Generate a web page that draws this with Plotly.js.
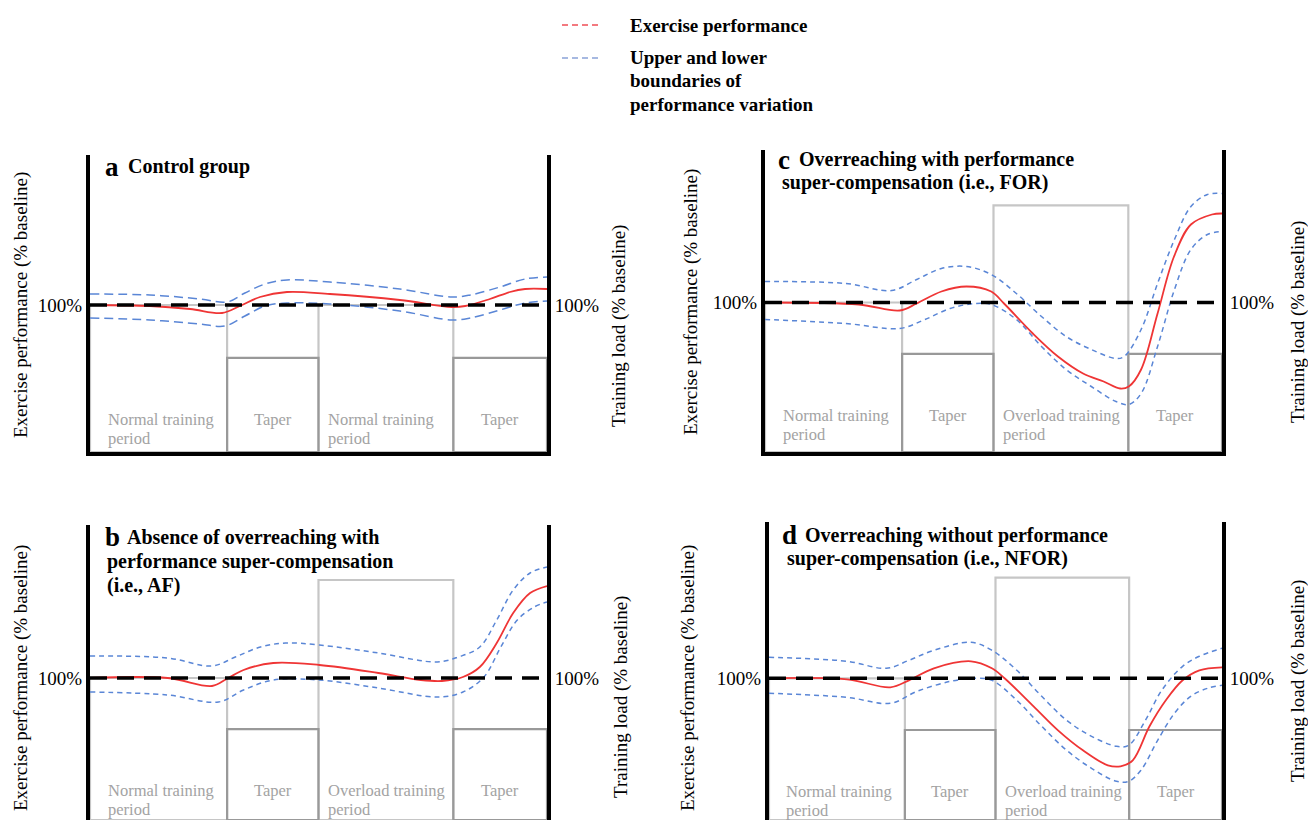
<!DOCTYPE html>
<html><head><meta charset="utf-8">
<script src="https://cdn.plot.ly/plotly-3.0.1.min.js"></script>
<style>html,body{margin:0;padding:0;background:#fff}#chart{width:1308px;height:820px}</style>
</head><body><div id="chart"></div>
<script>
// ---------------- DATA ----------------
// Time axis: protocol time in % of total duration; period boundaries
const periodEdges = [0, 30, 50, 79.5, 100];
const periodNamesA = ["Normal training<br>period", "Taper", "Normal training<br>period", "Taper"];
const periodNamesBCD = ["Normal training<br>period", "Taper", "Overload training<br>period", "Taper"];

// Training load (% baseline) per period
const loadA = [100, 64, 100, 64];
const loadB = [100, 64, 169, 64];
const loadC = [100, 65.6, 165, 65.6];
const loadD = [100, 63.5, 171, 63.5];

// Baseline reference (100 %)
const baseTime = [0, 100];
const basePerf = [100, 100];

// Panel a – Control group
const aRedTime = [0, 13.1, 21.9, 28.9, 32.8, 37.2, 43.1, 52.5, 67.8, 79.2, 82.1, 87.5, 91.9, 95.2, 100];
const aRedPerf = [100, 99.9, 99.6, 99.2, 99.9, 100.8, 101.3, 101.1, 100.5, 99.8, 99.9, 100.6, 101.3, 101.6, 101.6];
const aUpTime = [0, 13.1, 24.1, 30, 33.9, 38.3, 43.1, 52.5, 67.8, 79.2, 83.2, 89.7, 95.2, 100];
const aUpPerf = [101.1, 101.0, 100.6, 100.3, 101.2, 102.1, 102.5, 102.3, 101.6, 100.8, 101.0, 101.8, 102.6, 102.8];
const aLoTime = [0, 13.1, 24.1, 29.5, 33.9, 38.3, 43.1, 52.5, 67.8, 79.2, 83.2, 89.7, 95.2, 100];
const aLoPerf = [98.7, 98.5, 98.1, 97.9, 98.9, 99.9, 100.2, 100.1, 99.4, 98.5, 98.7, 99.5, 100.2, 100.4];

// Panel b – AF
const bRedTime = [0, 17.0, 26.7, 29.9, 33.6, 40.1, 50.2, 63.1, 72.4, 77.0, 81.6, 85.3, 89.0, 92.6, 96.3, 100];
const bRedPerf = [100, 100.0, 99.2, 99.9, 100.8, 101.5, 101.3, 100.5, 99.8, 99.7, 100.1, 101.1, 103.5, 106.5, 108.5, 109.2];
const bUpTime = [0, 17.0, 26.7, 31.8, 37.3, 42.8, 50.2, 63.1, 76.0, 80.6, 85.3, 89.0, 92.6, 96.3, 100];
const bUpPerf = [102.2, 102.0, 101.2, 102.1, 103.1, 103.5, 103.3, 102.5, 101.6, 102.1, 103.1, 105.8, 108.8, 110.5, 111.1];
const bLoTime = [0, 17.0, 28.1, 33.6, 40.1, 50.2, 63.1, 76.0, 81.6, 86.2, 89.9, 93.5, 97.2, 100];
const bLoPerf = [98.6, 98.3, 97.6, 98.8, 99.8, 99.8, 99.0, 98.1, 98.6, 100.1, 103.1, 105.8, 107.1, 107.6];

// Panel c – FOR
const cRedTime = [0, 20.5, 29.5, 33.2, 38.6, 44.1, 49.5, 52.3, 58.6, 64.1, 69.6, 74.1, 77.7, 79.6, 82.3, 85.9, 89.5, 93.2, 97.8, 100];
const cRedPerf = [100, 99.8, 99.2, 99.9, 101.1, 101.6, 101.1, 99.9, 96.9, 94.6, 92.9, 92.1, 91.4, 91.6, 93.3, 98.9, 104.6, 107.8, 108.8, 108.9];
const cUpTime = [0, 17.7, 27.7, 33.2, 38.6, 44.1, 49.5, 55.0, 60.5, 65.9, 71.4, 76.8, 78.6, 82.3, 85.9, 89.6, 93.2, 96.8, 100];
const cUpPerf = [102.1, 101.9, 101.2, 102.3, 103.4, 103.6, 102.8, 100.9, 98.6, 96.6, 95.3, 94.4, 94.6, 97.3, 101.9, 106.3, 109.6, 110.8, 110.9];
const cLoTime = [0, 17.7, 29.5, 35.0, 40.5, 45.9, 49.5, 55.0, 60.5, 65.9, 71.4, 76.8, 79.6, 82.3, 85.9, 89.6, 93.2, 96.8, 100];
const cLoPerf = [98.3, 97.9, 97.4, 98.3, 99.4, 99.9, 99.8, 98.3, 95.6, 93.3, 91.6, 90.1, 89.8, 90.9, 95.6, 101.3, 105.3, 106.8, 107.1];

// Panel d – NFOR
const dRedTime = [0, 17.2, 26.8, 30.9, 36.4, 44.6, 49.2, 52.0, 58.4, 63.8, 69.3, 74.8, 77.6, 80.3, 84.0, 87.6, 91.3, 95.0, 100];
const dRedPerf = [100, 99.9, 99.1, 99.8, 101.0, 101.7, 101.0, 100, 97.2, 94.8, 92.8, 91.3, 91.2, 91.8, 95.2, 97.8, 99.8, 100.8, 101.1];
const dUpTime = [0, 17.2, 25.9, 30.9, 36.4, 44.6, 49.2, 54.7, 60.2, 65.7, 71.2, 76.7, 79.4, 83.1, 86.7, 91.3, 95.0, 100];
const dUpPerf = [102.1, 101.7, 101.0, 101.8, 102.8, 103.6, 102.8, 100.8, 98.2, 95.8, 94.2, 93.2, 93.3, 95.8, 98.8, 101.2, 102.2, 103.0];
const dLoTime = [0, 17.2, 26.8, 32.7, 40.1, 45.6, 49.2, 54.7, 60.2, 65.7, 71.2, 76.7, 79.4, 82.1, 85.8, 89.5, 93.1, 96.8, 100];
const dLoPerf = [98.5, 98.1, 97.5, 98.7, 99.7, 100, 99.8, 97.8, 95.2, 92.8, 91.0, 89.7, 89.7, 90.8, 93.8, 96.5, 98.2, 99.0, 99.3];

// Texts
const tickText = "100%";
const yTitleLeft = "Exercise performance (% baseline)";
const yTitleRight = "Training load (% baseline)";
const legendPerf = ["Exercise performance"];
const legendBounds = ["Upper and lower", "boundaries of", "performance variation"];
const titleA = ["Control group"];
const titleB = ["Absence of overreaching with", "performance super-compensation", "(i.e., AF)"];
const titleC = ["Overreaching with performance", "super-compensation (i.e., FOR)"];
const titleD = ["Overreaching without performance", "super-compensation (i.e., NFOR)"];

// ---------------- LAYOUT / STYLE ----------------
const W = 1308, H = 820;
const RED = '#ef3535', BLUE = '#5a86d6', LEG_BLUE = '#8aa3d8', LEG_RED = '#f04d55';
const GRAY_LIGHT = '#c6c6c6', GRAY_DARK = '#999999', LABEL_GRAY = '#a3a3a3';
const FONT = 'Liberation Serif';

const panels = [
  {letter:'a', names:periodNamesA, load:loadA, red:[aRedTime,aRedPerf], up:[aUpTime,aUpPerf], lo:[aLoTime,aLoPerf],
   box:{l:90, r:547, t:155, b:452}, y100:305, bottomLine:true, labelTop:30, blueDash:'9px,5px',
   title:titleA, letterPos:[103,167], linePos:[[126,167]],
   yl:[21,305], yr:[619,326]},
  {letter:'b', names:periodNamesBCD, load:loadB, red:[bRedTime,bRedPerf], up:[bUpTime,bUpPerf], lo:[bLoTime,bLoPerf],
   box:{l:90, r:547, t:525, b:820}, y100:678, bottomLine:false, labelTop:28.9, blueDash:'5px,4px',
   title:titleB, letterPos:[103,537], linePos:[[125,537],[105,561],[105,585]],
   yl:[21,678], yr:[621,697]},
  {letter:'c', names:periodNamesBCD, load:loadC, red:[cRedTime,cRedPerf], up:[cUpTime,cUpPerf], lo:[cLoTime,cLoPerf],
   box:{l:765, r:1222, t:150, b:452}, y100:302.5, bottomLine:true, labelTop:32, blueDash:'5px,4px',
   title:titleC, letterPos:[776,160], linePos:[[797,160],[780,183]],
   yl:[691,302], yr:[1298,322]},
  {letter:'d', names:periodNamesBCD, load:loadD, red:[dRedTime,dRedPerf], up:[dUpTime,dUpPerf], lo:[dLoTime,dLoPerf],
   box:{l:769, r:1222, t:522, b:820}, y100:678.3, bottomLine:false, labelTop:28.2, blueDash:'5px,4px',
   title:titleD, letterPos:[780,535], linePos:[[803,535],[785,558]],
   yl:[688,678], yr:[1298,681]}
];

const traces = [];
const layout = {
  width: W, height: H, margin: {l:0, r:0, t:0, b:0},
  paper_bgcolor: '#ffffff', plot_bgcolor: 'rgba(0,0,0,0)',
  font: {family: FONT, color: '#000'}, showlegend: false,
  annotations: [], shapes: []
};

panels.forEach((p, i) => {
  const n = i + 1;
  const xa = n === 1 ? 'x' : 'x' + n;
  const loadNum = 2 * i + 1, perfNum = 2 * i + 2;
  const loadId = loadNum === 1 ? 'y' : 'y' + loadNum;
  const perfId = 'y' + perfNum;
  const B = p.box;

  const centers = p.load.map((_, j) => (periodEdges[j] + periodEdges[j + 1]) / 2);
  const widths = p.load.map((_, j) => periodEdges[j + 1] - periodEdges[j]);
  const isTaper = p.names.map(s => s === 'Taper');
  const pick = (arr, flag) => arr.filter((_, j) => isTaper[j] === flag);

  // training-load bars (non-taper first, taper on top so shared edges are dark)
  [false, true].forEach(flag => {
    traces.push({
      type: 'bar', x: pick(centers, flag), y: pick(p.load, flag), width: pick(widths, flag),
      xaxis: xa, yaxis: loadId, hoverinfo: 'skip', showlegend: false,
      marker: {color: 'rgba(255,255,255,0)', line: {color: flag ? GRAY_DARK : GRAY_LIGHT, width: 2.2}}
    });
  });

  const lineTrace = (xy, color, width, dash) => ({
    type: 'scatter', mode: 'lines', x: xy[0], y: xy[1], xaxis: xa, yaxis: perfId,
    hoverinfo: 'skip', showlegend: false,
    line: {color: color, width: width, dash: dash, shape: 'spline', smoothing: 1}
  });
  traces.push(lineTrace(p.up, BLUE, 1.5, p.blueDash));
  traces.push(lineTrace(p.lo, BLUE, 1.5, p.blueDash));
  traces.push(lineTrace(p.red, RED, 1.8, 'solid'));
  traces.push({type:'scatter', mode:'lines', x: baseTime, y: basePerf, xaxis: xa, yaxis: perfId,
    hoverinfo:'skip', showlegend:false, line:{color:'#000', width:3.5, dash:'17px,10px'}});

  const hPx = B.b - B.t;
  layout[n === 1 ? 'xaxis' : 'xaxis' + n] = {
    domain: [B.l / W, B.r / W], range: [0, 100], anchor: loadId,
    showline: p.bottomLine, linewidth: 4, linecolor: '#000',
    showticklabels: false, ticks: '', showgrid: false, zeroline: false, fixedrange: true
  };
  layout[loadNum === 1 ? 'yaxis' : 'yaxis' + loadNum] = {
    domain: [1 - B.b / H, 1 - B.t / H], range: [0, 100 * hPx / (B.b - p.y100)],
    anchor: xa, side: 'right', showline: true, linewidth: 4, linecolor: '#000',
    tickvals: [100], ticktext: [tickText], ticks: '', tickfont: {size: 19, family: FONT},
    showgrid: false, zeroline: false, fixedrange: true
  };
  layout['yaxis' + perfNum] = {
    overlaying: loadId, anchor: xa, side: 'left',
    range: [100 - (B.b - p.y100) / 10, 100 + (p.y100 - B.t) / 10],
    showline: true, linewidth: 4, linecolor: '#000',
    tickvals: [100], ticktext: [tickText], ticks: '', tickfont: {size: 19, family: FONT},
    showgrid: false, zeroline: false, fixedrange: true
  };

  // period labels inside bars
  p.names.forEach((name, j) => {
    const lines = name.split('<br>');
    const taper = isTaper[j];
    lines.forEach((ln, k) => {
      layout.annotations.push({
        xref: xa, yref: loadId,
        x: taper ? centers[j] : periodEdges[j] + (j === 0 ? 3.4 : 1.6),
        y: p.labelTop, yshift: -19 * k,
        xanchor: taper ? 'center' : 'left', yanchor: 'top',
        text: ln, showarrow: false, font: {size: 16.5, color: LABEL_GRAY, family: FONT}
      });
    });
  });

  // panel letter + title
  layout.annotations.push({xref:'paper', yref:'paper', x: p.letterPos[0] / W, y: 1 - p.letterPos[1] / H,
    xanchor:'left', yanchor:'middle', text:'<b>' + p.letter + '</b>', showarrow:false,
    font:{size: 27, family: FONT, color:'#000'}});
  p.title.forEach((t, k) => {
    layout.annotations.push({xref:'paper', yref:'paper', x: p.linePos[k][0] / W, y: 1 - p.linePos[k][1] / H,
      xanchor:'left', yanchor:'middle', text:'<b>' + t + '</b>', showarrow:false,
      font:{size: 20, family: FONT, color:'#000'}});
  });

  // axis titles
  layout.annotations.push({xref:'paper', yref:'paper', x: p.yl[0] / W, y: 1 - p.yl[1] / H,
    xanchor:'center', yanchor:'middle', textangle:-90, text: yTitleLeft, showarrow:false,
    font:{size: 19, family: FONT, color:'#000'}});
  layout.annotations.push({xref:'paper', yref:'paper', x: p.yr[0] / W, y: 1 - p.yr[1] / H,
    xanchor:'center', yanchor:'middle', textangle:-90, text: yTitleRight, showarrow:false,
    font:{size: 19, family: FONT, color:'#000'}});
});

// legend (drawn manually: dashed swatches + bold text)
const legY = [25, 58];
[[LEG_RED, legY[0]], [LEG_BLUE, legY[1]]].forEach(([c, y]) => {
  layout.shapes.push({type:'line', xref:'paper', yref:'paper', x0: 562 / W, x1: 599 / W, y0: 1 - y / H, y1: 1 - y / H,
    line:{color: c, width: 1.5, dash: '6px,4px'}});
});
legendPerf.forEach((t, k) => layout.annotations.push({xref:'paper', yref:'paper', x: 628 / W, y: 1 - (legY[0] + 23 * k) / H,
  xanchor:'left', yanchor:'middle', text:'<b>' + t + '</b>', showarrow:false, font:{size:19, family:FONT, color:'#000'}}));
legendBounds.forEach((t, k) => layout.annotations.push({xref:'paper', yref:'paper', x: 628 / W, y: 1 - (legY[1] + 23 * k) / H,
  xanchor:'left', yanchor:'middle', text:'<b>' + t + '</b>', showarrow:false, font:{size:19, family:FONT, color:'#000'}}));

Plotly.newPlot('chart', traces, layout, {staticPlot: true, displayModeBar: false});
</script>
</body></html>
